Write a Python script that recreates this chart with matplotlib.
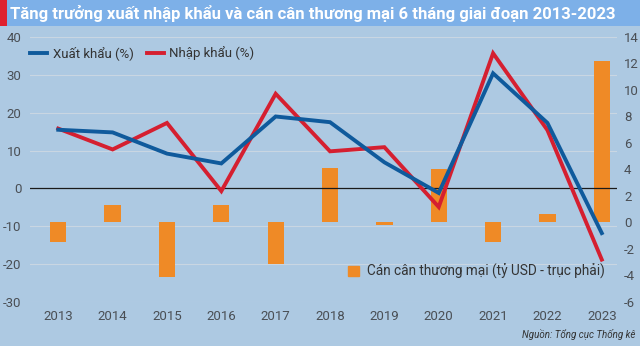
import matplotlib.pyplot as plt
from matplotlib.patches import Rectangle
from matplotlib.lines import Line2D
from matplotlib.patches import Patch

years = ['2013', '2014', '2015', '2016', '2017', '2018', '2019', '2020', '2021', '2022', '2023']
export_growth = [15.5, 14.8, 9.2, 6.6, 19.0, 17.5, 6.9, -1.2, 30.4, 17.3, -11.8]
import_growth = [15.8, 10.3, 17.3, -0.7, 25.0, 9.8, 10.9, -4.9, 35.7, 15.4, -18.8]
trade_balance = [-1.5, 1.35, -4.1, 1.3, -3.1, 4.1, -0.2, 4.0, -1.5, 0.65, 12.2]
left_ticks = [-30, -20, -10, 0, 10, 20, 30, 40]
right_ticks = [-6, -4, -2, 0, 2, 4, 6, 8, 10, 12, 14]

BG = '#adc9e2'
BAND = '#7db0e8'
BLUE = '#0f5a9c'
RED = '#d51f30'
ORANGE = '#ef8a26'
GRID = '#c9d6e2'
TXT = '#4a4f55'

plt.rcParams['font.family'] = ['Roboto', 'DejaVu Sans']
plt.rcParams['axes.unicode_minus'] = False

fig = plt.figure(figsize=(6.4, 3.46), dpi=100)
fig.patch.set_facecolor(BG)

# title band
fig.patches.append(Rectangle((0, 1 - 26 / 346), 1, 26 / 346, transform=fig.transFigure,
                             facecolor=BAND, edgecolor='none', zorder=0))
fig.patches.append(Rectangle((0, 1 - 26 / 346), 7 / 640, 26 / 346, transform=fig.transFigure,
                             facecolor='#e0202e', edgecolor='none', zorder=1))
fig.text(10 / 640, 1 - 13 / 346, 'Tăng trưởng xuất nhập khẩu và cán cân thương mại 6 tháng giai đoạn 2013-2023',
         color='white', fontsize=12, fontweight='bold', va='center', ha='left')

ax = fig.add_axes([30 / 640, 1 - 302 / 346, 587 / 640, 265 / 346])
ax.set_facecolor('none')
ax2 = ax.twinx()
ax.set_zorder(2)
ax2.set_zorder(1)

x = list(range(len(years)))
ax2.bar(x, trade_balance, width=0.3, color=ORANGE, zorder=2)
ax2.set_ylim(-6, 14)
ax2.set_yticks(right_ticks)

ax.plot(x, export_growth, color=BLUE, lw=2.8, zorder=4, solid_joinstyle='miter')
ax.plot(x, import_growth, color=RED, lw=2.8, zorder=3, solid_joinstyle='miter')
ax.axhline(0, color='#1a1a1a', lw=0.9, zorder=2)
ax.set_ylim(-30, 40)
ax.set_yticks(left_ticks)
ax.set_xlim(-0.52, 10.28)
ax.set_xticks(x)
ax.set_xticklabels(years)

# gridlines drawn behind the bars
for t in left_ticks:
    ax2.axhline(-6 + (t + 30) / 3.5, color=GRID, lw=0.8, zorder=0)

for a in (ax, ax2):
    for s in a.spines.values():
        s.set_visible(False)
    a.tick_params(length=0, colors=TXT, labelsize=9.5)
ax.tick_params(axis='y', pad=6)
ax2.tick_params(axis='y', pad=5)
ax.tick_params(axis='x', pad=6)

line_handles = [Line2D([0], [0], color=BLUE, lw=2.8), Line2D([0], [0], color=RED, lw=2.8)]
leg1 = ax.legend(line_handles, ['Xuất khẩu (%)', 'Nhập khẩu (%)'], loc='upper left',
                 bbox_to_anchor=(-0.02, 1.01), ncol=2, frameon=False, fontsize=9.5,
                 handlelength=1.3, handletextpad=0.4, columnspacing=1.0, labelcolor='#333333')
ax.add_artist(leg1)
ax.legend([Patch(color=ORANGE)], ['Cán cân thương mại (tỷ USD - trục phải)'], loc='lower right',
          bbox_to_anchor=(1.0, 0.04), frameon=False, fontsize=9.8, handlelength=0.8,
          handleheight=0.8, handletextpad=0.6, labelcolor='#333333')

fig.text(635 / 640, 1 - 335 / 346, 'Nguồn: Tổng cục Thống kê', fontsize=7, style='italic',
         color='#333333', ha='right', va='center')

fig.savefig('out.png', dpi=100, facecolor=BG)
